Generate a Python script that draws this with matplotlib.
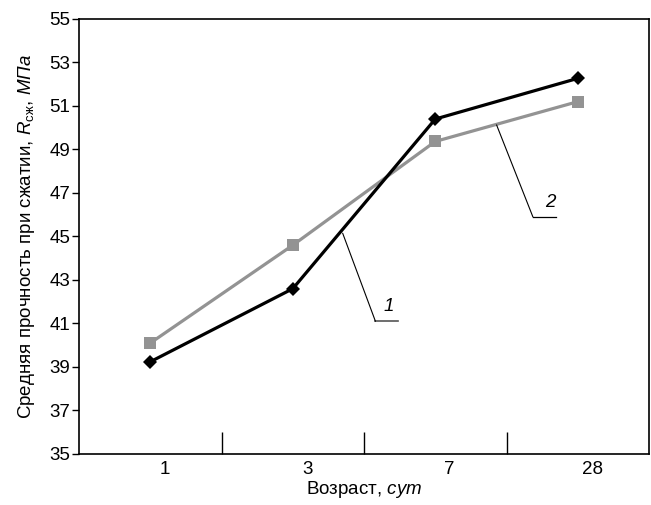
import matplotlib
matplotlib.use("Agg")
from matplotlib import pyplot as plt

plt.rcParams['font.family'] = ['Liberation Sans', 'DejaVu Sans']
plt.rcParams['mathtext.fontset'] = 'custom'
plt.rcParams['mathtext.rm'] = 'Liberation Sans'
plt.rcParams['mathtext.it'] = 'Liberation Sans:italic'

ages = ["1", "3", "7", "28"]
strength1 = [39.24, 42.6, 50.4, 52.27]
strength2 = [40.1, 44.6, 49.37, 51.2]
y_ticks = list(range(35, 56, 2))

fig = plt.figure(figsize=(6.51, 5.05), dpi=100)
ax = fig.add_axes([0.1214, 0.101, 0.8756, 0.8614])

x = list(range(len(ages)))
ax.plot(x, strength2, "-s", color="#939393", lw=2.3, ms=8.5, mew=0, zorder=2)
ax.plot(x, strength1, "-D", color="black", lw=2.3, ms=7.3, mew=0, zorder=3)

ax.set_xlim(-0.5, len(ages) - 0.5)
ax.set_ylim(35, 55)
ax.set_yticks(y_ticks)
ax.tick_params(axis="y", direction="out", length=5, width=1, pad=1.5, labelsize=13.5)

# labels slightly right of the category centres, separators between categories
ax.set_xticks([i + 0.1 for i in x])
ax.set_xticklabels(ages)
ax.set_xticks([i + 0.5 for i in x[:-1]], minor=True)
ax.tick_params(axis="x", which="major", length=0, pad=5, labelsize=13.5)
ax.tick_params(axis="x", which="minor", direction="in", length=16, width=1)

for s in ax.spines.values():
    s.set_linewidth(1.2)

ax.set_xlabel("Возраст, $\\it{сут}$", fontsize=13.5, labelpad=1)
ax.set_ylabel("Средняя прочность при сжатии, $\\it{R}_{\\rm{сж}}$, $\\it{МПа}$",
              fontsize=13.5, labelpad=9)

# leader lines for the curve numbers
ax.annotate("", xy=(1.35, 45.15), xytext=(1.58, 41.1),
            arrowprops=dict(arrowstyle="-", lw=0.8, color="black", shrinkA=0, shrinkB=0))
ax.plot([1.58, 1.74], [41.1, 41.1], color="#555555", lw=1.2)
ax.text(1.675, 41.8, "1", fontsize=13.5, style="italic", ha="center", va="center")

ax.annotate("", xy=(2.43, 50.13), xytext=(2.685, 45.9),
            arrowprops=dict(arrowstyle="-", lw=0.8, color="black", shrinkA=0, shrinkB=0))
ax.plot([2.685, 2.847], [45.9, 45.9], color="black", lw=0.9)
ax.text(2.805, 46.55, "2", fontsize=13.5, style="italic", ha="center", va="center")

fig.savefig("out.png", dpi=100)
